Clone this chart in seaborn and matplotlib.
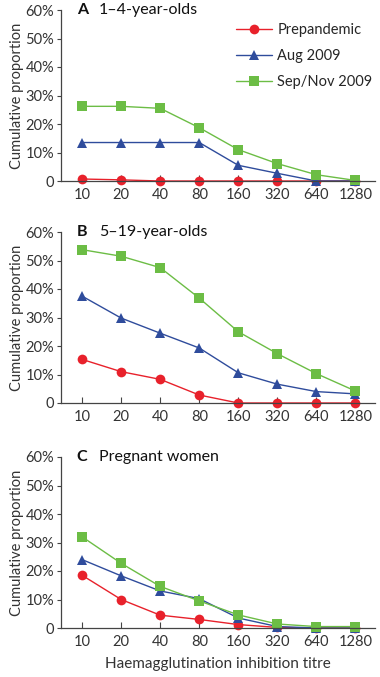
import numpy as np
import pandas as pd
import matplotlib
matplotlib.use("Agg")
import matplotlib.pyplot as plt
import seaborn as sns

# =============================================================================
# Data
# =============================================================================
titres = ['10', '20', '40', '80', '160', '320', '640', '1280']
series_names = ['Prepandemic', 'Aug 2009', 'Sep/Nov 2009']

panel_letters = ['A', 'B', 'C']
panel_titles = ['1\u20134-year-olds', '5\u201319-year-olds', 'Pregnant women']

# values in %
a_prepandemic = [0.7, 0.4, 0.0, 0.0, 0.0, 0.0, 0.0, 0.0]
a_aug2009 = [13.5, 13.5, 13.5, 13.5, 5.5, 2.7, 0.0, 0.0]
a_sepnov2009 = [26.2, 26.2, 25.5, 18.7, 11.0, 6.1, 2.2, 0.2]

b_prepandemic = [15.3, 11.0, 8.3, 2.8, 0.0, 0.0, 0.0, 0.0]
b_aug2009 = [37.5, 29.8, 24.5, 19.3, 10.6, 6.6, 4.0, 3.2]
b_sepnov2009 = [53.8, 51.5, 47.5, 36.8, 25.0, 17.3, 10.3, 4.2]

c_prepandemic = [18.5, 10.0, 4.5, 3.0, 1.2, 0.2, 0.0, 0.0]
c_aug2009 = [24.0, 18.3, 13.0, 10.3, 3.5, 0.5, 0.0, 0.0]
c_sepnov2009 = [32.0, 22.7, 14.6, 9.5, 4.6, 1.4, 0.5, 0.5]

panels = [
    [a_prepandemic, a_aug2009, a_sepnov2009],
    [b_prepandemic, b_aug2009, b_sepnov2009],
    [c_prepandemic, c_aug2009, c_sepnov2009],
]

colors = {'Prepandemic': '#e8212b', 'Aug 2009': '#2f4c9c', 'Sep/Nov 2009': '#6cbd45'}
markers = {'Prepandemic': 'o', 'Aug 2009': '^', 'Sep/Nov 2009': 's'}
msizes = {'Prepandemic': 7, 'Aug 2009': 7.5, 'Sep/Nov 2009': 7}

# =============================================================================
# Plot
# =============================================================================
sns.set_style('ticks')
plt.rcParams['font.family'] = ['Lato', 'DejaVu Sans']
axis_grey = '#444444'
text_grey = '#333333'

fig = plt.figure(figsize=(3.8, 6.77), dpi=100)
bottoms = [1 - 181 / 677, 1 - 403 / 677, 1 - 628 / 677]
left, width, height = 61 / 380, (375 - 61) / 380, 171 / 677

for k, values in enumerate(panels):
    ax = fig.add_axes([left, bottoms[k], width, height])
    rows = []
    for name, vals in zip(series_names, values):
        for i, v in enumerate(vals):
            rows.append({'pos': i, 'value': v, 'series': name})
    df = pd.DataFrame(rows)

    for name in series_names:
        sub = df[df['series'] == name]
        sns.lineplot(data=sub, x='pos', y='value', ax=ax, color=colors[name],
                     marker=markers[name], markersize=msizes[name],
                     markeredgewidth=0, linewidth=1.0, label=name,
                     clip_on=False)

    ax.set_xlim(-0.54, 7.5)
    ax.set_ylim(0, 60)
    ax.set_xticks(range(len(titres)))
    ax.set_xticklabels(titres)
    ax.set_yticks(np.arange(0, 61, 10))
    ax.set_yticklabels(['0'] + [f'{t}%' for t in range(10, 61, 10)])
    ax.tick_params(axis='x', direction='in', length=4, color=axis_grey,
                   labelsize=10.5, labelcolor=text_grey, pad=5)
    ax.tick_params(axis='y', direction='out', length=3, color=axis_grey,
                   labelsize=10.5, labelcolor=text_grey, pad=2)
    for sp in ['top', 'right']:
        ax.spines[sp].set_visible(False)
    for sp in ['left', 'bottom']:
        ax.spines[sp].set_color(axis_grey)
        ax.spines[sp].set_linewidth(0.9)

    ax.set_xlabel('Haemagglutination inhibition titre' if k == 2 else '',
                  fontsize=11, color=text_grey, labelpad=6)
    ax.set_ylabel('Cumulative proportion', fontsize=10.5, color=text_grey,
                  labelpad=1)

    ax.text(0.05, 1.0, panel_letters[k], transform=ax.transAxes,
            fontsize=11.5, fontweight='bold', va='center', ha='left',
            color='#111111')
    ax.text(0.12, 1.0, panel_titles[k], transform=ax.transAxes,
            fontsize=11.5, va='center', ha='left', color='#111111')

    if k == 0:
        ax.legend(loc='upper right', bbox_to_anchor=(1.01, 0.96),
                  frameon=False, fontsize=10.5, handlelength=2.5,
                  handletextpad=0.35, labelspacing=0.85, borderaxespad=0)
    else:
        ax.get_legend().remove()

fig.savefig('out.png', dpi=100)
